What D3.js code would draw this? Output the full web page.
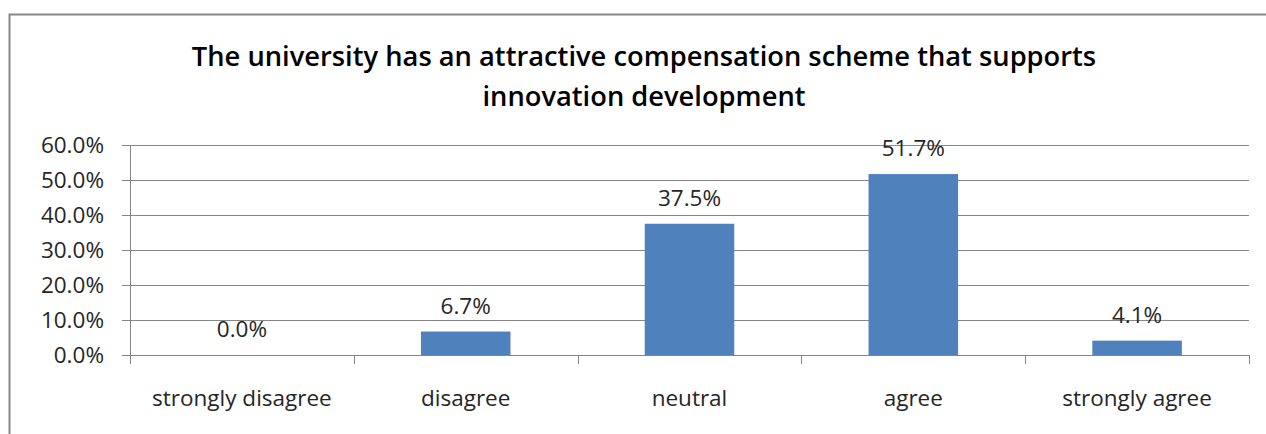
<!DOCTYPE html>
<html>
<head>
<meta charset="utf-8">
<script src="https://cdn.jsdelivr.net/npm/d3@7"></script>
<style>
  html, body { margin: 0; padding: 0; background: #fff; }
  svg { display: block; }
  text { font-family: "Open Sans", "Noto Sans", sans-serif; fill: #262626; }
</style>
</head>
<body>
<svg id="chart" width="1266" height="434"></svg>
<script>
// Survey responses (share of respondents)
const categories = ["strongly disagree", "disagree", "neutral", "agree", "strongly agree"];
const shares = [0.0, 6.7, 37.5, 51.7, 4.1];
const yTicks = [0, 10, 20, 30, 40, 50, 60];
const titleLines = [
  "The university has an attractive compensation scheme that supports",
  "innovation development"
];

const svg = d3.select("#chart");
const W = 1266, H = 434;
const plot = { left: 130, right: 1249, top: 145, bottom: 355 };
const labelSize = "22.5px";

// outer chart frame
svg.append("rect")
  .attr("x", 9.5).attr("y", 14.5)
  .attr("width", W + 20).attr("height", H + 20)
  .attr("fill", "#fff").attr("stroke", "#868686").attr("stroke-width", 2);

// title
const title = svg.append("text")
  .attr("text-anchor", "middle")
  .style("font-weight", "600")
  .style("font-size", "27.3px")
  .style("fill", "#000");
titleLines.forEach((line, i) => {
  title.append("tspan").attr("x", 644).attr("y", 66 + i * 40).text(line);
});

const x = d3.scaleBand().domain(categories).range([plot.left, plot.right]).paddingInner(0.6).paddingOuter(0.3);
const xCat = d3.scaleBand().domain(categories).range([plot.left, plot.right]);
const y = d3.scaleLinear().domain([0, 60]).range([plot.bottom, plot.top]);

// y axis
const yAxis = svg.append("g")
  .attr("transform", `translate(${plot.left},0)`)
  .call(d3.axisLeft(y).tickValues(yTicks).tickFormat(d => d.toFixed(1) + "%").tickSize(8).tickPadding(18));
yAxis.select(".domain").attr("stroke", "#868686");
yAxis.selectAll(".tick line").attr("stroke", "#868686");
yAxis.selectAll(".tick text")
  .style("font-size", labelSize)
  .style("font-family", "'Open Sans', sans-serif")
  .attr("fill", "#262626");

// horizontal gridlines
svg.append("g").selectAll("line").data(yTicks.slice(1)).join("line")
  .attr("x1", plot.left).attr("x2", plot.right)
  .attr("y1", d => Math.round(y(d)) + 0.5).attr("y2", d => Math.round(y(d)) + 0.5)
  .attr("stroke", "#868686").attr("stroke-width", 1);

// bars
svg.append("g").selectAll("rect").data(shares).join("rect")
  .attr("x", (d, i) => x(categories[i]))
  .attr("width", x.bandwidth())
  .attr("y", d => y(d))
  .attr("height", d => y(0) - y(d))
  .attr("fill", "#4F81BD");

// x axis with category boundary ticks
const bounds = categories.map(c => xCat(c)).concat([plot.right]);
svg.append("line")
  .attr("x1", plot.left).attr("x2", plot.right)
  .attr("y1", y(0) + 0.5).attr("y2", y(0) + 0.5)
  .attr("stroke", "#868686");
svg.append("g").selectAll("line").data(bounds).join("line")
  .attr("x1", d => Math.round(d) + 0.5).attr("x2", d => Math.round(d) + 0.5)
  .attr("y1", y(0)).attr("y2", y(0) + 9)
  .attr("stroke", "#868686");

svg.append("g").selectAll("text").data(categories).join("text")
  .attr("x", d => xCat(d) + xCat.bandwidth() / 2)
  .attr("y", 406)
  .attr("text-anchor", "middle")
  .style("font-size", labelSize)
  .text(d => d);

// value labels above bars
svg.append("g").selectAll("text").data(shares).join("text")
  .attr("x", (d, i) => x(categories[i]) + x.bandwidth() / 2)
  .attr("y", d => y(d) - 18)
  .attr("text-anchor", "middle")
  .style("font-size", labelSize)
  .text(d => d.toFixed(1) + "%");
</script>
</body>
</html>
